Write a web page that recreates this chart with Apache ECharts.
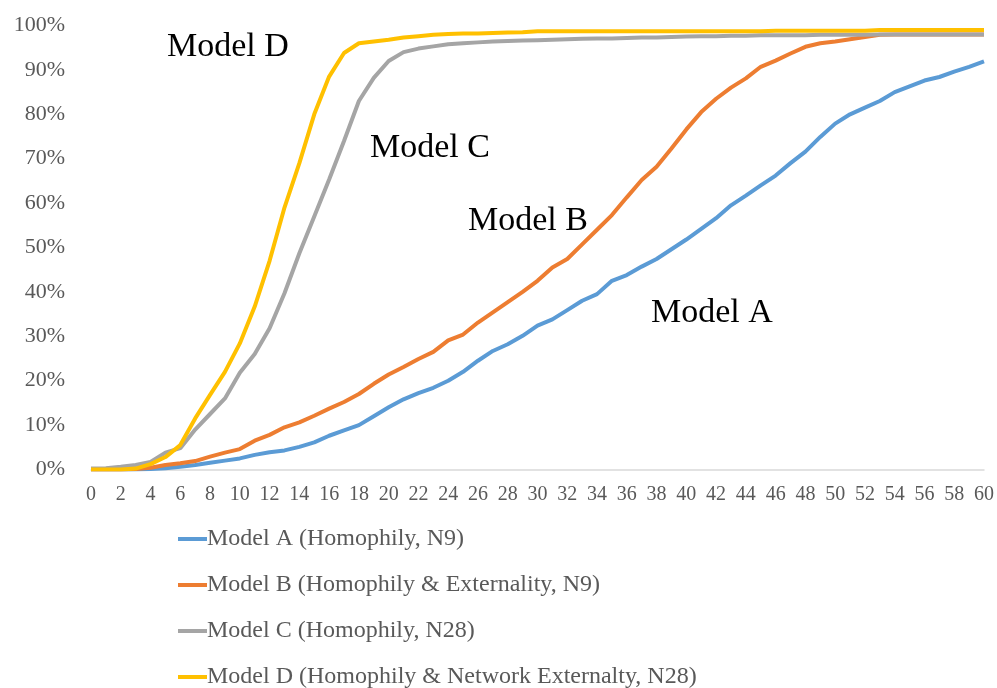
<!DOCTYPE html>
<html>
<head>
<meta charset="utf-8">
<script src="https://cdn.jsdelivr.net/npm/echarts@6/dist/echarts.min.js"></script>
<style>
html,body{margin:0;padding:0;background:#fff;}
#chart{width:997px;height:688px;}
</style>
</head>
<body>
<div id="chart"></div>
<script>
// x categories: 0..60
var categories = ["0","1","2","3","4","5","6","7","8","9","10","11","12","13","14","15","16","17","18","19","20","21","22","23","24","25","26","27","28","29","30","31","32","33","34","35","36","37","38","39","40","41","42","43","44","45","46","47","48","49","50","51","52","53","54","55","56","57","58","59","60"];

var seriesNames = [
  "Model A (Homophily, N9)",
  "Model B (Homophily & Externality, N9)",
  "Model C (Homophily, N28)",
  "Model D (Homophily & Network Externalty, N28)"
];

// values in percent
var modelA = [0,0,0,0,0.1,0.3,0.6,1.0,1.5,2.0,2.5,3.3,3.9,4.3,5.1,6.1,7.6,8.8,10.0,12.0,14.0,15.8,17.2,18.4,20.0,22.0,24.5,26.7,28.2,30.1,32.4,33.8,35.9,38.0,39.5,42.5,43.8,45.7,47.4,49.6,51.8,54.2,56.6,59.5,61.7,64.0,66.2,69.0,71.6,74.9,77.9,80.0,81.5,83.0,85.0,86.3,87.6,88.4,89.6,90.7,91.9];
var modelB = [0,0,0,0.1,0.4,1.0,1.4,1.9,2.9,3.8,4.6,6.5,7.8,9.5,10.6,12.1,13.7,15.2,17.0,19.3,21.4,23.1,24.9,26.5,29.1,30.4,33.1,35.4,37.7,40.0,42.5,45.5,47.4,50.7,54.0,57.3,61.3,65.2,68.2,72.3,76.6,80.5,83.5,86.0,88.1,90.7,92.1,93.7,95.2,96.0,96.4,96.9,97.4,97.9,98.0,98.0,98.0,98.0,98.0,98.0,98.0];
var modelC = [0.2,0.3,0.6,1.0,1.7,3.8,4.8,9.0,12.5,16.0,21.8,26.0,31.8,39.7,48.7,57.0,65.3,74.0,83.0,88.2,92.0,94.0,94.8,95.3,95.8,96.0,96.2,96.4,96.5,96.6,96.7,96.8,96.9,97.0,97.1,97.1,97.2,97.3,97.3,97.4,97.5,97.6,97.6,97.7,97.7,97.8,97.8,97.8,97.8,97.9,97.9,97.9,97.9,98.0,98.0,98.0,98.0,98.0,98.0,98.0,98.0];
var modelD = [0,0,0,0.2,1.2,2.8,5.5,11.5,16.8,22.0,28.4,36.7,47.0,59.0,69.0,80.0,88.5,93.8,96.0,96.4,96.8,97.3,97.6,97.9,98.1,98.2,98.2,98.3,98.4,98.5,98.7,98.7,98.7,98.7,98.7,98.7,98.7,98.7,98.7,98.7,98.7,98.7,98.7,98.7,98.7,98.7,98.8,98.8,98.8,98.8,98.8,98.8,98.8,99.0,99.0,99.0,99.0,99.0,99.0,99.0,99.0];

var colors = ["#5B9BD5", "#ED7D31", "#A5A5A5", "#FFC000"];
var annotations = ["Model D", "Model C", "Model B", "Model A"];

var serif = "'Liberation Serif', 'Times New Roman', serif";
var dataSets = [modelA, modelB, modelC, modelD];

var chart = echarts.init(document.getElementById('chart'), null, {renderer: 'canvas'});
chart.setOption({
  animation: false,
  backgroundColor: '#ffffff',
  color: colors,
  grid: {left: 91, right: 12, top: 25.5, bottom: 218.5, containLabel: false},
  xAxis: {
    type: 'category',
    data: categories,
    boundaryGap: false,
    axisLine: {show: true, lineStyle: {color: '#D9D9D9', width: 1.5}},
    axisTick: {show: false},
    axisLabel: {interval: 1, color: '#595959', fontFamily: serif, fontSize: 20, margin: 15},
    splitLine: {show: false}
  },
  yAxis: {
    type: 'value',
    min: 0, max: 100, interval: 10,
    axisLine: {show: false},
    axisTick: {show: false},
    splitLine: {show: false},
    axisLabel: {formatter: '{value}%', color: '#595959', fontFamily: serif, fontSize: 22, margin: 26}
  },
  legend: {
    orient: 'vertical',
    left: 173,
    top: 520,
    height: 200,
    icon: 'rect',
    itemWidth: 29,
    itemHeight: 4,
    itemGap: 18,
    data: seriesNames,
    textStyle: {fontFamily: serif, fontSize: 24, color: '#595959', lineHeight: 28, padding: [0,0,0,-5]}
  },
  series: dataSets.map(function (d, i) {
    return {
      name: seriesNames[i],
      type: 'line',
      data: d,
      showSymbol: false,
      symbol: 'none',
      lineStyle: {width: 4, color: colors[i]},
      itemStyle: {color: colors[i]}
    };
  }),
  graphic: [
    {type: 'text', x: 167, y: 47, style: {text: annotations[0], font: "34px " + serif, fill: '#000', verticalAlign: 'middle'}},
    {type: 'text', x: 370, y: 148, style: {text: annotations[1], font: "34px " + serif, fill: '#000', verticalAlign: 'middle'}},
    {type: 'text', x: 468, y: 221, style: {text: annotations[2], font: "34px " + serif, fill: '#000', verticalAlign: 'middle'}},
    {type: 'text', x: 651, y: 313, style: {text: annotations[3], font: "34px " + serif, fill: '#000', verticalAlign: 'middle'}}
  ]
});
</script>
</body>
</html>
